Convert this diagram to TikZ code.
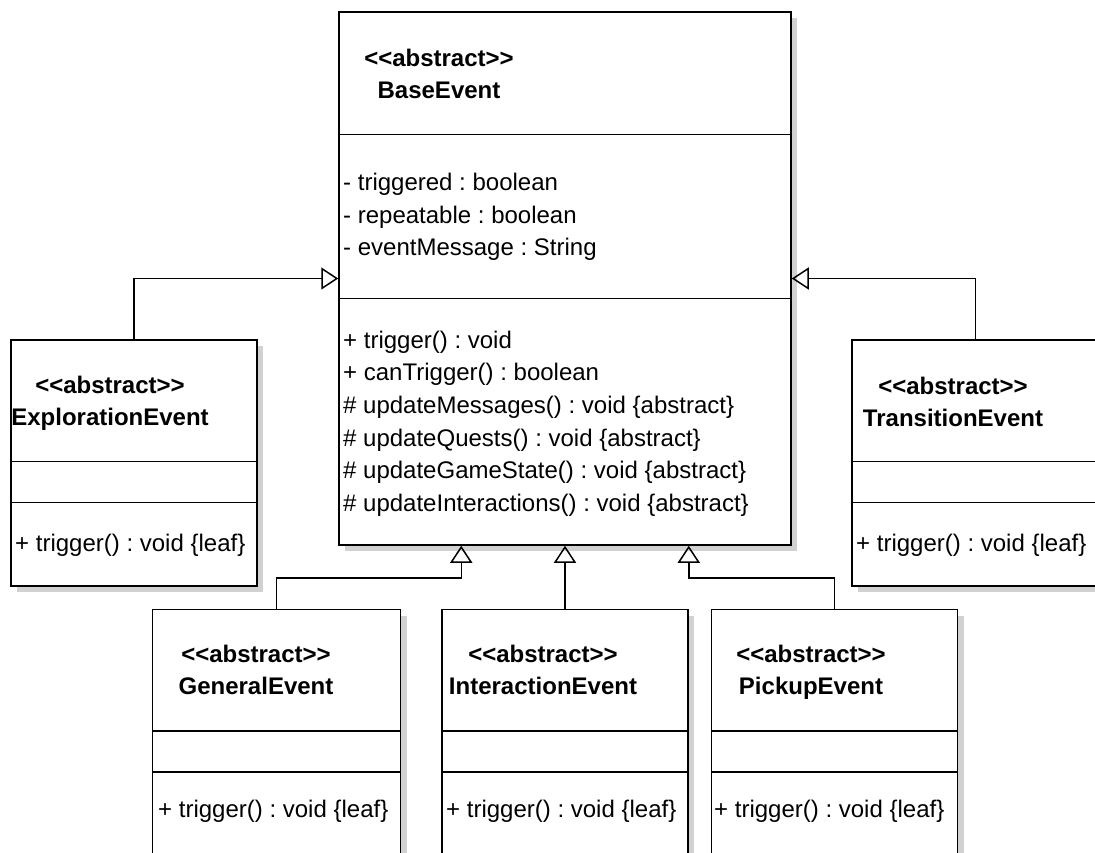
\documentclass[tikz,border=0pt]{standalone}
\usepackage{fontspec}
\setmainfont{Liberation Sans}
\usepackage{tikz}
\usetikzlibrary{positioning, calc, shadows, arrows.meta}
\newcommand{\stereoabstract}{<\kern0pt<abstract>\kern0pt>}
\tikzstyle{classbox} = [rectangle, draw=black, line width=1.5pt, fill=white, inner sep=0pt, drop shadow={shadow xshift=6pt, shadow yshift=-6pt, fill=black!18, opacity=1}]
\tikzstyle{classname} = [font=\fontsize{24}{32}\selectfont\bfseries, align=center, inner sep=0pt]
\tikzstyle{members} = [font=\fontsize{24}{32.6}\selectfont\frenchspacing, align=left, anchor=west, inner sep=0pt]
\tikzstyle{divider} = [line width=1.5pt]
\tikzstyle{inherit} = [line width=1.5pt, -{Triangle[open, length=17pt, width=22pt]}]

\begin{document}
\begin{tikzpicture}[x=1pt, y=-1pt]
    \useasboundingbox (0,0) rectangle (1095,852);
    \clip (0,0) rectangle (1095,852);

    % class boxes
    \node (base) [classbox, minimum width=452pt, minimum height=533pt] at (565,278.5) {};
    \node (expl) [classbox, minimum width=246pt, minimum height=246pt] at (134,463) {};
    \node (trans) [classbox, minimum width=247pt, minimum height=246pt] at (975.5,463) {};
    \node (inter) [classbox, minimum width=246pt, minimum height=246pt, below=63pt of base] {};
    \node (general) [classbox, minimum width=248pt, minimum height=246pt, left=40pt of inter] {};
    \node (pickup) [classbox, minimum width=246pt, minimum height=246pt, right=22pt of inter] {};

    % compartments
    \draw [divider] ([yshift=-123pt]base.north west) -- ([yshift=-123pt]base.north east);
    \draw [divider] ([yshift=-287pt]base.north west) -- ([yshift=-287pt]base.north east);
    \foreach \c in {expl, trans, general, inter, pickup} {
        \draw [divider] ([yshift=-122pt]\c.north west) -- ([yshift=-122pt]\c.north east);
        \draw [divider] ([yshift=-163pt]\c.north west) -- ([yshift=-163pt]\c.north east);
    }

    % texts
    \node (basename) [classname] at (439,74) {\stereoabstract\\BaseEvent};
    \node (baseattr) [members] at (343,217) {- triggered : boolean\\- repeatable : boolean\\- eventMessage : String};
    \node (baseops) [members] at (343,423.5) {+ trigger() : void\\+ canTrigger() : boolean\\\# updateMessages() : void \{abstract\}\\\# updateQuests() : void \{abstract\}\\\# updateGameState() : void \{abstract\}\\\# updateInteractions() : void \{abstract\}};

    \node (explname) [classname] at (110,403) {\stereoabstract\\ExplorationEvent};
    \node (explops) [members] at (15,545) {+ trigger() : void \{leaf\}};
    \node (transname) [classname] at (953,401.5) {\stereoabstract\\TransitionEvent};
    \node (transops) [members] at (856,545) {+ trigger() : void \{leaf\}};
    \node (generalname) [classname] at (256,670) {\stereoabstract\\GeneralEvent};
    \node (generalops) [members] at (158,811) {+ trigger() : void \{leaf\}};
    \node (intername) [classname] at (543,670) {\stereoabstract\\InteractionEvent};
    \node (interops) [members] at (446,811) {+ trigger() : void \{leaf\}};
    \node (pickupname) [classname] at (811,672) {\stereoabstract\\PickupEvent};
    \node (pickupops) [members] at (714,811) {+ trigger() : void \{leaf\}};

    % generalisations
    \draw [inherit] (expl.north) |- (base.west);
    \draw [inherit] (trans.north) |- (base.east);
    \draw [inherit] (general.north) -- ++(0,-31) -| ([xshift=123pt]base.south west);
    \draw [inherit] (inter.north) -- (base.south);
    \draw [inherit] (pickup.north) -- ++(0,-31) -| ([xshift=-103pt]base.south east);
\end{tikzpicture}
\end{document}
